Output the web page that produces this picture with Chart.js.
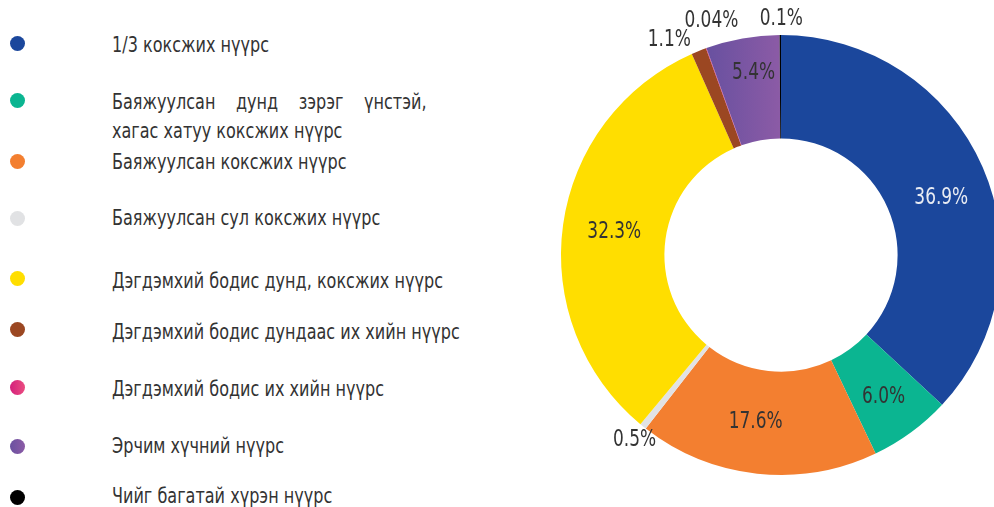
<!DOCTYPE html>
<html>
<head>
<meta charset="utf-8">
<script src="https://cdn.jsdelivr.net/npm/chart.js@4.4.1/dist/chart.umd.min.js"></script>
<style>
	html, body { margin: 0; padding: 0; background: #fff; }
	body { width: 994px; height: 507px; overflow: hidden; position: relative;
		font-family: "DejaVu Sans Condensed", sans-serif; color: #333; }
	#legend .item { position: absolute; left: 112px; font-size: 21px; line-height: 29px; white-space: nowrap;
		transform: scaleX(0.85); transform-origin: 0 0; }
	#legend .item.just { width: 370px; white-space: normal; text-align: justify; text-align-last: justify; }
	#legend .dot { position: absolute; left: 10px; width: 15px; height: 15px; border-radius: 50%; }
	#chartBox { position: absolute; left: 541px; top: 0; }
</style>
</head>
<body>
<div id="legend"></div>
<div id="chartBox"><canvas id="coalShare" width="480" height="510"></canvas></div>
<script>
// coal type shares, %
const categories = [
	"1/3 коксжих нүүрс",
	"Баяжуулсан дунд зэрэг үнстэй, хагас хатуу коксжих нүүрс",
	"Баяжуулсан коксжих нүүрс",
	"Баяжуулсан сул коксжих нүүрс",
	"Дэгдэмхий бодис дунд, коксжих нүүрс",
	"Дэгдэмхий бодис дундаас их хийн нүүрс",
	"Дэгдэмхий бодис их хийн нүүрс",
	"Эрчим хүчний нүүрс",
	"Чийг багатай хүрэн нүүрс",
];
const shares = [36.9, 6.0, 17.6, 0.5, 32.3, 1.1, 0.04, 5.4, 0.1];
const shareLabels = ["36.9%", "6.0%", "17.6%", "0.5%", "32.3%", "1.1%", "0.04%", "5.4%", "0.1%"];
const colors = ["#1b479c", "#0bb591", "#f37f30", "#e1e2e4", "#ffde00", "#9b4722", "#dd2a7b", "#7a55a3", "#000000"];

// legend layout (marker centre y, text top y)
const dotY = [43, 100, 161, 218, 278, 329, 387, 446, 497];
const textY = [31, 88, 148, 204, 267, 318, 375, 432, 482];

const legend = document.getElementById("legend");
categories.forEach(function (name, i) {
	const dot = document.createElement("div");
	dot.className = "dot";
	dot.style.top = (dotY[i] - 7.5) + "px";
	dot.style.background = i === 6 ? "linear-gradient(90deg,#d41f7c,#ea4d80)"
		: i === 7 ? "linear-gradient(90deg,#6a51a0,#8c5ba6)" : colors[i];
	legend.appendChild(dot);
	// the long name is broken after the comma, first line justified
	const parts = i === 1 ? [name.slice(0, name.indexOf(",") + 1), name.slice(name.indexOf(",") + 2)] : [name];
	parts.forEach(function (p, k) {
		const txt = document.createElement("div");
		txt.className = parts.length > 1 && k === 0 ? "item just" : "item";
		txt.style.top = (textY[i] + k * 29) + "px";
		txt.textContent = p;
		legend.appendChild(txt);
	});
});

// percentage labels drawn on / around the arcs
const labelNudge = { 0: [6, 10], 1: [3, 6], 2: [-7, 0], 3: [4, -2], 5: [-22, 8], 6: [12, -8], 7: [2, -16], 8: [1, 4] };
const sliceLabels = {
	id: "sliceLabels",
	afterDatasetsDraw(chart) {
		const ctx = chart.ctx;
		const meta = chart.getDatasetMeta(0);
		meta.data.forEach(function (arc, i) {
			const a = (arc.startAngle + arc.endAngle) / 2;
			const inside = shares[i] >= 2;
			const r = inside ? (arc.innerRadius + arc.outerRadius) / 2 : arc.outerRadius + 20;
			const n = labelNudge[i] || [0, 0];
			ctx.save();
			ctx.translate(arc.x + Math.cos(a) * r + n[0], arc.y + Math.sin(a) * r + n[1]);
			ctx.scale(0.82, 1);
			ctx.font = '23px "DejaVu Sans Condensed", sans-serif';
			ctx.textAlign = "center";
			ctx.textBaseline = "middle";
			ctx.fillStyle = i === 0 ? "#e9ecf3" : "#333333";
			ctx.fillText(shareLabels[i], 0, 0);
			ctx.restore();
		});
	},
};

const ctx = document.getElementById("coalShare");
new Chart(ctx, {
	type: "doughnut",
	data: {
		labels: categories,
		datasets: [
			{
				data: shares,
				backgroundColor: function (c) {
					const i = c.dataIndex;
					if (i === 7 && c.chart.chartArea) {
						const g = c.chart.ctx.createLinearGradient(170, 0, 240, 0);
						g.addColorStop(0, "#6a51a0");
						g.addColorStop(1, "#8c5ba6");
						return g;
					}
					return colors[i];
				},
				borderWidth: 0,
			},
		],
	},
	options: {
		responsive: false,
		animation: false,
		cutout: "53%",
		layout: { padding: 20 },
		plugins: {
			legend: { display: false },
			tooltip: { enabled: false },
		},
	},
	plugins: [sliceLabels],
});
</script>
</body>
</html>
